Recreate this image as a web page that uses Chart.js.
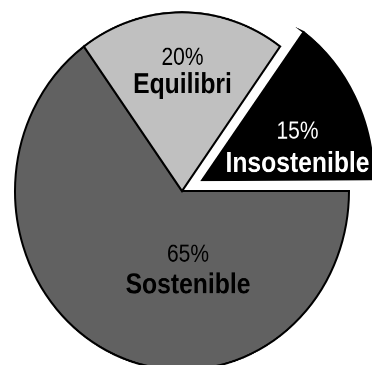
<!DOCTYPE html>
<html>
<head>
<meta charset="utf-8">
<script src="https://cdn.jsdelivr.net/npm/chart.js@4.4.0/dist/chart.umd.min.js"></script>
<style>
  html, body { margin: 0; padding: 0; background: #fff; overflow: hidden; }
</style>
</head>
<body>
<!-- drawn at 372x341 and shown at 372x365, so the pie comes out slightly taller than wide -->
<canvas id="pie" width="372" height="341" style="width:372px;height:365px;display:block"></canvas>
<script>
const categories = ['Sostenible', 'Equilibri', 'Insostenible']
const shares = [65, 20, 15]

const sliceColors = ['#616161', '#c0c0c0', '#000000']
const textColors = ['#000000', '#000000', '#ffffff']
// arc offset is scaled down inside Chart.js (/4 plus a small-slice fix),
// 91 ends up pulling the small slice out by roughly 27px
const sliceOffsets = [0, 0, 91]

// label anchor per slice: x shift, percent baseline, name baseline (px from pie centre)
const labelPlacement = [
  [6, 66, 95.5],
  [0.5, -118, -91.3],
  [115.5, -49.2, -18],
]

function stretchedText(ctx, text, x, y, font, color) {
  ctx.save()
  ctx.translate(x, y)
  ctx.scale(1, 1.094)
  ctx.font = font
  ctx.fillStyle = color
  ctx.textAlign = 'center'
  ctx.textBaseline = 'alphabetic'
  ctx.fillText(text, 0, 0)
  ctx.restore()
}

const sliceLabels = {
  id: 'sliceLabels',
  afterDatasetsDraw(chart) {
    const ctx = chart.ctx
    const meta = chart.getDatasetMeta(0)
    meta.data.forEach((arc, i) => {
      const [dx, dyPct, dyName] = labelPlacement[i]
      const x = arc.x + dx
      stretchedText(ctx, `${shares[i]}%`, x, arc.y + dyPct, '21px "Liberation Sans", Arial, sans-serif', textColors[i])
      stretchedText(ctx, categories[i], x, arc.y + dyName, 'bold 24.7px "Liberation Sans", Arial, sans-serif', textColors[i])
    })
  },
}

new Chart(document.getElementById('pie'), {
  type: 'pie',
  data: {
    labels: categories,
    datasets: [{
      data: shares,
      backgroundColor: sliceColors,
      borderColor: '#000000',
      borderWidth: 2,
      borderJoinStyle: 'miter',
      offset: sliceOffsets,
      hoverOffset: 0,
      clip: false,
    }],
  },
  options: {
    responsive: false,
    devicePixelRatio: 2,
    animation: false,
    rotation: 90,
    radius: 167,
    layout: { padding: { left: 0, right: 8, top: 16, bottom: 0 } },
    plugins: {
      legend: { display: false },
      tooltip: { enabled: false },
    },
  },
  plugins: [sliceLabels],
})
</script>
</body>
</html>
